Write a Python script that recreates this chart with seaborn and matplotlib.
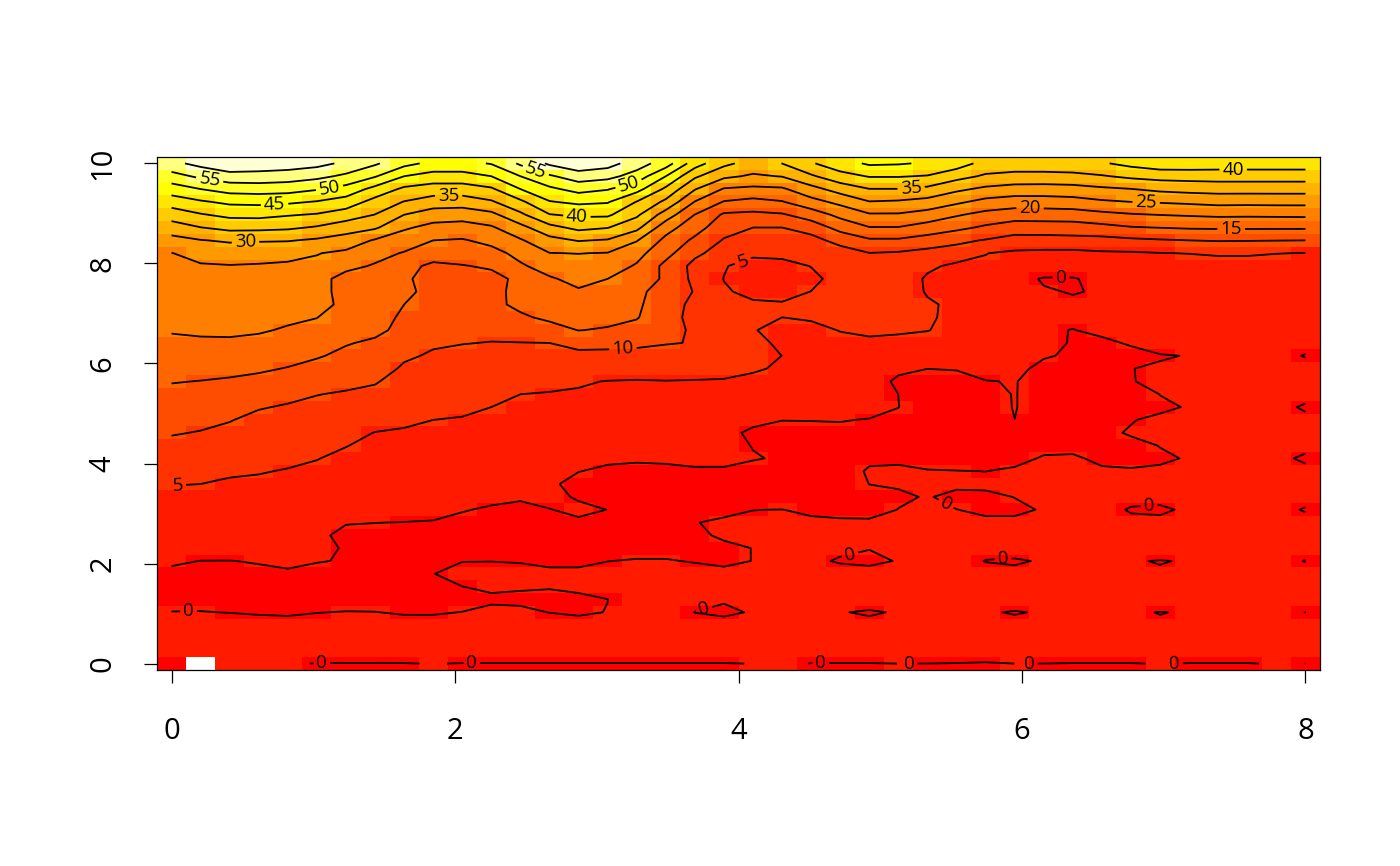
import numpy as np
import matplotlib
matplotlib.use('Agg')
import matplotlib.pyplot as plt
import seaborn as sns
from matplotlib.colors import ListedColormap, BoundaryNorm

nan = float('nan')

x_ticks = [0, 2, 4, 6, 8]
y_ticks = [0, 2, 4, 6, 8, 10]
levels = [0, 5, 10, 15, 20, 25, 30, 35, 40, 45, 50, 55, 60]
bounds = [-5, 0, 5, 10, 15, 20, 25, 30, 35, 40, 45, 50, 55, 60, 65]
heat_colors = ['#FF0000', '#FF1A00', '#FF3300', '#FF4D00', '#FF6600', '#FF8000', '#FF9900',
               '#FFB300', '#FFCC00', '#FFE600', '#FFFF00', '#FFFF2A', '#FFFF80', '#FFFFD5']

# one list per x position, top row (y=10) first, bottom row (y=0) last
c00 = [58.7,53.1,47.6,42.3,37.3,32.7,28.3,24.9,24.1,23.4, 22.6,21.8,21.1,20.3,19.2,17.9,16.5,15.2,13.9,12.7,
       11.5,10.3,9.0,7.7,6.4,5.1,4.3,3.4,2.6,1.8, 1.0,0.2,-0.3,-0.4,-0.3,0.02,0.4,0.6,0.4,-0.05]
c01 = [61.5,56,50,44.4,39.6,34.9,29.8,26.5,24.6,23.8, 22.9,22.2,21.3,20.5,19.5,17.9,16.4,14.9,13.6,12.3,
       11,9.8,8.5,7.2,5.9,5,4.2,3.3,2.5,1.7, .8,-.02,-.3,-.4,-.3,.03,.4,.6,.4,nan]
c02 = [64,58,52,46,41.2,36.4,30.6,27.2,24.8,23.9, 23.1,22.3,21.4,20.6,19.5,17.8,16.1,14.5,13.1,11.6,
       10.2,9,7.7,6.4,5.4,4.6,3.8,3,2.3,1.5, .8,-.03,-.4,-.5,-.4,-.02,.4,.7,.5,.1]
c03 = [63.2,58,52.4,46.2,41.4,36.3,30.4,26.9,24.6,23.8, 22.9,22.1,21.2,20.4,19,17.3,15.6,13.9,12.1,10.3,
       8.9,8.1,7.2,6.2,5.2,4.4,3.7,3,2.3,1.5, .8,.1,-.3,-.5,-.5,-.1,.4,.7,.5,.1]
c04 = [62.6,57.5,52,45.8,40.4,35.8,30.3,26.2,24.4,23.4, 22.5,21.6,20.7,19.6,18,16.4,14.8,13.1,11.1,9.6,
       8.6,7.7,6.7,5.7,4.8,4.1,3.4,2.7,2,1.6, 1,.3,-.2,-.5,-.5,-.2,.5,.7,.5,.06]
c05 = [61.5,56.3,50.4,44.7,39.6,34.5,29.3,25.2,24,21.5, 21.3,21.1,20.1,18.6,17,15.4,13.6,11.9,10.1,9.1,
       8.1,7.1,6.1,5.1,4.4,3.8,3.2,2.6,.9,.4, .3,.05,-.3,-.6,-.6,-.03,.5,.7,.5,-.02]
c06 = [59,54,48.2,42.8,37.6,32.2,27.9,24,21.1,18.5, 18.7,19.2,17.5,16.3,15.3,14,12.5,11,9.6,8.4,
       7.3,6.2,5.1,4.3,3.5,2.7,1.9,1.1,.1,-.47, -.1,-.06,-.7,-.8,-.6,.05,.5,.8,.4,-.02]
c07 = [55.7,50.4,43.4,38.2,34.9,30.7,24.5,21.4,19.6,18.8, 17.9,17,16.2,16,14.3,13,11.6,10.3,9.1,7.8,
       6.5,4.9,4.2,3.5,2.8,2.1,1.4,.7,.02,-.5, -.8,-.8,-.8,-.7,-.4,.02,.4,.6,.4,-.02]
c08 = [51.5,45,39,34.8,30,25.7,22.3,19.7,16.5,15.8, 15.8,15,14.5,13.8,11.7,10.5,9.5,8.5,7.5,6.5,
       5.5,4.7,4,3.4,2.8,2.1,1.4,.7,-.03,-.6, -.8,-.9,-.9,-.8,-.5,-.1,.4,.7,.5,-.02]
c09 = [48.7,43,37.7,32.6,27.5,23.5,20,17.3,14,13, 13.9,12.7,11.9,11.2,10.4,9.6,8.7,7.8,6.9,5.9,
       5,4.4,3.9,3.3,2.5,1.9,1.2,.5,-.1,-.6, -.9,-.8,-.03,-.8,-.6,-.1,.4,.7,.5,.018]
c10 = [48.7,43,37.7,32.4,27.1,23,19.6,16.9,14.8,14, 13.2,12.4,11.6,10.8,10.1,9.2,8.3,7.4,6.5,5.6,
       4.8,4.1,3.4,2.8,2.1,1.4,.8,.1,-.4,-.6, -.4,-.04,.5,-.01,-.4,.02,.4,.7,.5,-.02]
c11 = [50.3,45,39.3,34.4,28.7,24.4,21.3,18.4,15.5,13.8, 13.9,14,11.7,10.8,9.9,8.9,7.9,6.9,6,5,
       4.3,3.6,3,2.4,1.7,1.1,.4,-.2,-.6,-.8, -.5,-.03,.6,.2,-.2,.3,.6,.8,.5,-.02]
c12 = [55.8,50,45,39,34,28.5,24.5,21.4,19.4,15.9, 16.1,15.9,14.4,12.1,9.9,8.7,7.5,6.3,5,4.4,
       3.8,3.2,2.6,2,1.4,.8,.2,-.4,-.7,-.8, -.6,-.1,.5,.1,-.2,.2,.6,.8,.5,-.02]
c13 = [60.8,54.3,49,44.7,39.8,33.5,28.4,24.9,21.9,19.5, 18.3,17,15.8,13.4,10,8.6,7.4,5.9,4.8,4.2,
       3.7,3.2,2.6,2.1,1.5,.4,.5,-.05,-.5,-.8, -.7,-.3,.3,.05,-.2,-.02,.5,.8,.5,-.02]
c14 = [63.4,57.6,51.7,46,40.8,36.3,30.3,25.1,23.2,21.3, 19.5,18,16.6,15.1,11.3,8.9,7.2,5.3,4.7,4.2,
       3.7,3.2,2.7,2.2,.05,-.75,-.2,.4,-.3,-.8, -.7,-.3,.3,.2,-.2,-.15,.4,.7,.5,-.02]
c15 = [62,56.5,50.3,45.4,40.8,35.2,29.6,24.8,22.4,20, 18.7,17.4,16.2,14.6,11.3,8.7,6.8,4.9,4.2,3.4,
       2.7,1.9,1.2,.4,-.4,-.8,-.8,-.02,-.9,-1, -.9,-.02,.5,.4,-.01,.03,.5,.8,.5,-.02]
c16 = [57.4,52.9,46.8,39.8,35.9,31.4,25.3,21.6,19.5,18.5, 15.9,15.7,15.3,13.5,10.9,8.6,6.4,4.8,4,3.4,
       2.5,1.8,1,.2,-.4,-.8,-.9,-1,-1,-.9, -.5,.1,.5,.7,.6,.5,.6,.8,.5,-.02]
c17 = [52.5,45,39,33.9,27.7,22,18.7,16.6,13.7,14, 13.3,12.5,11.8,11,10.2,8.6,6.5,4.9,4.4,3.5,
       2.7,1.9,1.1,.3,-.4,-.8,-.9,-1,-1.1,-.9, -.5,.1,.5,.7,.6,.5,.6,.8,.5,-.02]
c18 = [42.3,35.8,30.3,24.8,19.9,17,14,11,8.6,8.8, 9.7,8.65,8.6,9.55,9.85,8.6,6.5,4.8,4.1,3.3,
       2.5,1.7,.9,.3,-.15,-.6,-.8,-.9,-.04,-.13, -.5,-.1,.6,.7,.4,-.02,.5,.8,.5,-.02]
c19 = [36.2,31,24.6,19.7,14.3,12,9.6,7.9,5.3,4.9, 5.4,5.6,6.1,6.3,6.4,6.3,5.8,4.8,4.1,3.4,
       2.6,.9,.54,.3,-.15,-.6,-.9,-.3,.2,.1, -.14,-.15,.19,.7,.15,-.3,.6,.8,.5,-.02]
c20 = [33,29.3,23.9,18.5,13.9,10,8.4,5.9,3.3,3, 4.1,5.5,6,5.3,5.9,6,5.4,4.2,3,2,
       .8,-.6,-.06,.1,-.5,-.8,-1,-.02,.3,.2, .012,.013,.5,.7,.5,.13,.6,.8,.5,.0086]
c21 = [35.05,30.2,24.3,19.7,14.5,10,8.8,6,3.8,3, 3.9,5.3,5,3.3,4.4,4.98,4.55,3.8,2.9,1.5,
       .03,-.5,-.8,-.15,-.9,-1,-1.1,.02,.4,.5, .6,.7,.6,.6,.6,.5,.6,.8,.5,.18]
c22 = [39.5,34.3,28.3,23.3,17.3,12.3,8.1,6.5,5.1,4.2, 5.05,5.8,5.3,4.3,3.8,3.4,3,2.6,1.8,.7,
       .05,-.5,-.8,-.9,-1,-1.1,-1.1,-.3,.3,.5, .6,.2,.6,.6,.6,.5,.6,.8,.5,-.02]
c23 = [43,38.2,32.1,26.3,21.4,16.6,11.9,7.4,6.5,6.2, 6.3,6.2,5.9,5.1,4.3,3.7,3.2,2.7,1.9,.8,
       .1,-.5,-.8,-.9,-1,-1,-.9,-.4,.2,.3, .2,-.1,.4,.6,.6,.06,.6,.8,.5,-.02]
c24 = [45.7,40.3,34.9,29.8,24.5,19.8,14.3,9.9,9.2,8.5, 7.8,7.2,6.1,5.4,4.6,4,3.4,2.7,1.9,.8,
       -.1,-.6,-.9,-.4,.25,.02,-.6,-.7,.3,.5, .06,-.4,.65,.7,.6,-.13,.3,.8,.5,-.02]
c25 = [45.4,40.3,34.9,29.4,24.5,19.8,14.3,9.5,9,8.4, 7.5,6.9,6,5.3,4.4,3.4,1.1,-1,-.01,.02,
       -.3,-.8,-1,-.4,.4,.2,-.3,.04,.3,.5, .6,.1,.7,.6,.5,.1,.5,.8,.5,.001]
c26 = [44.5,39.7,33.9,28.3,23,17.9,12.9,8.4,6,4.25, 4.63,5.5,5.6,5.1,3.8,2.3,.01,-.6,-.8,-.7,
       -.8,-1,-1,-1,.15,.4,.13,.3,.5,.6, .6,.7,.7,.6,.5,.4,.5,.8,.5,-.002]
c27 = [42.5,36.7,31,25.9,20.5,16.2,11,8,3.9,3.2, 3.3,4.2,3.8,4.1,3,1.6,.1,-.6,-.9,-1,
       -1,-1.1,-1.1,-.9,.05,.4,-.5,.02,.5,.6, .6,.6,.7,.6,.5,.4,.5,.8,.5,-.02]
c28 = [38.2,34.3,29,23.5,18.5,14.2,9.7,5.1,4.4,3.8, 3.3,3,2.8,2.5,2.1,1.6,.7,-.07,-.7,-.9,
       -.9,-1,-1,-.8,-.01,.2,-.2,-.3,.3,.5, .5,-.05,.5,.6,.5,.08,.5,.8,.5,-.06]
c29 = [37.8,33.5,28,22.5,17.4,12.5,8.1,4.2,2,.8, 1.2,1.6,1.5,1.2,1,.8,.3,.08,.1,.1,
       -.01,-.9,-1,-.6,.3,.5,.02,-.2,.2,.5, .4,-.1,.2,.6,.5,-.06,.24,.7,.5,.001]
c30 = [38,33.4,27.9,22.6,17.5,12.6,8.1,3.9,1.8,-.2, .17,.6,.8,.3,.8,.1,-.3,-.7,-1,-1,
       -.9,-1,-.6,.2,.5,.6,.5,.08,.4,.6, .4,.08,.4,.6,.5,.08,.4,.7,.5,-.001]
c31 = [38.7,33.5,28.3,23,17.7,12.7,8.4,3.8,1.8,-.2, -.1,.3,.5,-.06,-.2,-.15,-.6,-1,-1.1,-1.1,
       -1,-1,-.4,.2,.5,.7,.6,.5,.5,.6, .5,.5,.5,.6,.5,.4,.5,.7,.5,-.02]
c32 = [39.5,34.6,29.2,24.3,18.7,13.6,8.4,4.4,2.5,.8, .16,.7,.6,.45,-.4,-.8,-.9,-1,-1.1,-1.1,
       -1,-.19,-.9,-.3,.2,.5,.5,.8,.5,.6, .5,.5,.5,.6,.5,.4,.5,.7,.5,-.02]
c33 = [41.4,36,29.9,25,19.6,14.7,9.1,4.5,2.7,1.5, 1,.7,.8,.8,.2,-.6,-.02,-.2,-.7,-.6,
       -.05,.08,-.2,-.6,.2,.5,.67,-.2,.49,.5, .5,.045,.5,.6,.5,.08,.5,.7,.5,-.02]
c34 = [43,36.8,31.1,25.4,20.1,15.1,9.6,4.9,2.9,1.7, 1.2,1,1,1,.7,-.1,.14,1,.02,-.2,
       .2,.5,.02,-.1,.1,.5,.27,-.15,.2,.5, .5,-.03,.07,.6,.5,-.02,.08,.7,.5,.02]
c35 = [43,37,31.7,25.9,20.5,15.5,10,5.1,3,2, 1.4,1.2,1.1,1,.9,.05,.7,.9,.7,.08,
       .5,.6,.5,.05,.5,.6,.6,.15,.5,.5, .5,.045,.5,.6,.5,.05,.5,.7,.5,-.02]
c36 = [42.6,37.2,32,26.5,20.9,15.6,10.3,5.5,3.2,2.1, 1.5,1.3,1.2,1.1,1,.9,.9,1,.9,.8,
       .8,.8,.7,.7,.7,.7,.7,.6,.6,.6, .6,.6,.5,.6,.5,.5,.5,.7,.5,-.02]
c37 = [42.6,37.2,32,26.4,20.8,15.6,10.2,5.5,3.2,2.1, 1.5,1.3,1.2,1.1,1,.9,.9,1,.9,.8,
       .8,.8,.7,.7,.7,.7,.7,.6,.6,.6, .6,.6,.5,.6,.5,.5,.5,.7,.5,-.02]
c38 = [42.6,37.2,32,26.5,20.9,15.6,10.1,5.1,3.1,2, 1.4,1.2,1.1,1,.8,.28,.8,1,.9,.23,
       .7,.8,.7,.22,.7,.7,.7,.2,.6,.6, .6,.33,.5,.6,.5,.33,.5,.7,.5,.03]
c39 = [42.6,37.2,32,26.5,21,15.6,10,4.9,3,2, 1.4,1.2,1,.9,.3,-.05,.3,.8,.26,-.1,
       .17,.6,.25,-.15,.22,.6,.2,-.05,.2,.5, .25,-.03,.25,.5,.3,-.01,.3,.6,.4,-.001]

# label positions in chart units: (x, y)
label_spots = [(.268, 9.66), (1.115, 9.50), (.727, 9.18), (1.955, 9.32), (.522, 8.41), (2.57, 9.86),
               (3.226, 9.58), (2.86, 8.94), (5.217, 9.54), (6.057, 9.08), (6.876, 9.20), (7.476, 8.69),
               (7.49, 9.88), (4.03, 8.05), (3.184, 6.31), (.045, 3.49), (.12, 1.04), (1.06, 0),
               (2.118, 0), (3.756, 1.10), (4.786, 2.19), (5.867, 2.11), (6.897, 3.13), (5.464, 3.19),
               (6.276, 7.69), (4.58, 0), (5.203, 0), (6.036, 0), (7.067, 0)]

sns.set_style('white')
plt.rcParams['font.family'] = ['Open Sans', 'DejaVu Sans']

columns = [c00, c01, c02, c03, c04, c05, c06, c07, c08, c09, c10, c11, c12, c13, c14, c15, c16, c17, c18, c19,
           c20, c21, c22, c23, c24, c25, c26, c27, c28, c29, c30, c31, c32, c33, c34, c35, c36, c37, c38, c39]
z = np.array(columns).T[::-1]
n_rows, n_cols = z.shape


def to_cell_x(v):
    return np.asarray(v) / 8 * (n_cols - 1) + 0.5


def to_cell_y(v):
    return np.asarray(v) / 10 * (n_rows - 1) + 0.5


fig = plt.figure(figsize=(14, 8.66), dpi=100)
ax = fig.add_axes([157 / 1400, 196 / 866, 1163 / 1400, 513 / 866])

sns.heatmap(z, cmap=ListedColormap(heat_colors), norm=BoundaryNorm(bounds, len(heat_colors)),
            cbar=False, ax=ax, xticklabels=False, yticklabels=False)
ax.set_ylim(0, n_rows)
ax.set_xlim(0, n_cols)

cs = ax.contour(np.arange(n_cols) + 0.5, np.arange(n_rows) + 0.5, np.ma.masked_invalid(z),
                levels=levels, colors='black', linewidths=1.3, corner_mask=False)
spots = [(float(to_cell_x(a)), float(to_cell_y(b))) for a, b in label_spots]
ax.clabel(cs, manual=spots, fmt='%d', fontsize=13.5, inline=True, inline_spacing=3)

for s in ax.spines.values():
    s.set_visible(True)
    s.set_linewidth(0.9)
    s.set_color('black')

ax.set_xticks(to_cell_x(x_ticks))
ax.set_xticklabels(x_ticks)
ax.set_yticks(to_cell_y(y_ticks))
ax.set_yticklabels(y_ticks, rotation=90, va='center')
ax.tick_params(axis='x', length=9.5, width=0.9, color='black', labelcolor='black', labelsize=21, pad=24, bottom=True)
ax.tick_params(axis='y', length=9.5, width=0.9, color='black', labelcolor='black', labelsize=21, pad=19, left=True)

fig.savefig('out.png', dpi=100)
